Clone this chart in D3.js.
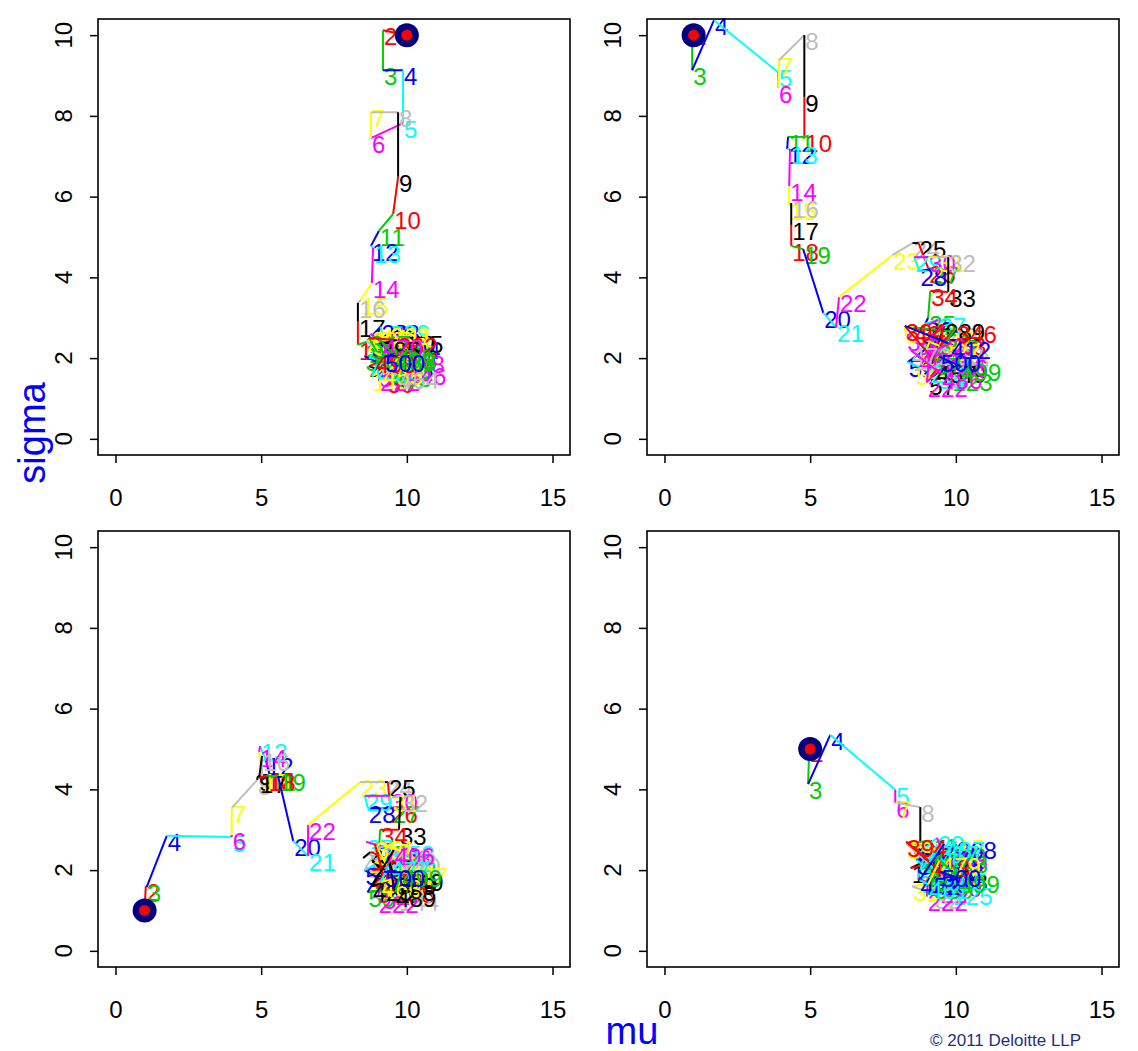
<!DOCTYPE html>
<html><head><meta charset="utf-8">
<script src="https://cdn.jsdelivr.net/npm/d3@7"></script>
<style>
body{margin:0;background:#fff}
svg{display:block}
text{font-family:"Liberation Sans",Arial,Helvetica,sans-serif}
</style>
</head><body>
<svg id="chart" width="1138" height="1051"></svg>
<script>
// R default palette (index 1..8)
const palette = ["#000000","#FF0000","#00CD00","#0000FF","#00FFFF","#FF00FF","#FFFF00","#BEBEBE"];
const xTicks = [0, 5, 10, 15];
const yTicks = [0, 2, 4, 6, 8, 10];
const xTitle = "mu", yTitle = "sigma", credit = "\u00A9 2011 Deloitte LLP";

// Chain A: start (10,10)
const iterA = [1,2,3,4,5,6,7,8,9,10,11,12,13,14,15,16,17,18,
  19,20,21,22,23,24,25,26,27,28,29,30,31,32,33,34,35,36,37,38,39,40,41,42,43,44,45,46,47,48,49,50,
  103,111,138,156,175,189,204,222,237,251,263,279,295,318,333,347,362,385,403,419,431,446,455,464,470,483,498,499,500];
const muA = [10,9.18,9.18,9.87,9.87,8.77,8.77,9.70,9.70,9.53,9.04,8.77,8.84,8.80,8.42,8.32,8.32,8.32,
  8.60,9.10,9.30,8.90,9.60,9.20,10.30,9.90,9.40,9.50,9.85,9.00,9.70,8.75,9.35,10.00,8.55,9.55,9.15,9.75,8.95,9.60,8.70,9.25,10.10,8.85,8.65,9.45,8.60,9.80,10.05,9.30,
  9.30,9.60,8.85,9.50,8.80,9.20,9.75,9.05,8.95,9.55,9.40,9.10,8.75,9.90,9.30,8.70,9.65,9.05,9.45,8.90,9.35,9.95,9.15,9.70,9.15,9.60,8.90,9.55,9.22];
const sigmaA = [10,10.12,9.13,9.13,7.82,7.45,8.09,8.09,6.49,5.57,5.15,4.78,4.73,3.86,3.44,3.37,2.90,2.33,
  2.40,2.78,2.20,1.90,2.05,2.50,2.50,2.30,1.80,2.78,2.76,1.65,2.40,2.15,2.62,1.85,2.05,1.70,2.30,2.15,2.60,1.55,1.80,1.95,2.10,2.35,2.25,2.55,2.43,1.75,2.50,1.50,
  2.45,2.65,2.10,1.85,1.55,2.25,2.35,1.55,1.85,2.20,2.70,2.00,2.60,2.00,1.75,2.50,2.45,2.35,1.65,2.15,1.95,1.70,1.70,1.60,2.40,2.05,2.00,2.10,2.03];

// Chain B: start (1,10)
const iterB = [1,2,3,4,5,6,7,8,9,10,11,12,13,14,15,16,17,18,19,20,21,22,23,24,25,26,27,28,29,30,31,32,33,34,35,
  36,37,38,39,40,41,42,43,44,45,46,47,48,49,50,51,52,53,54,55,56,57,58,59,60,
  107,123,142,168,191,207,222,246,261,289,302,327,346,371,394,412,438,457,472,486,499,500];
const muB = [1.0,0.95,0.95,1.70,3.90,3.90,3.93,4.80,4.80,4.80,4.24,4.21,4.31,4.28,4.28,4.35,4.35,4.35,4.76,5.45,5.89,5.99,7.82,8.51,8.72,9.05,9.16,8.75,8.57,9.05,9.36,9.74,9.74,9.12,9.05,
  8.95,9.40,8.30,8.25,9.80,9.00,8.55,10.05,9.10,8.70,10.00,9.20,10.20,10.10,8.80,9.60,8.35,9.35,10.10,8.60,9.75,9.05,10.10,8.90,9.50,
  9.40,9.85,9.00,9.55,8.80,9.20,9.00,9.70,9.10,9.60,8.95,9.45,10.00,9.25,8.25,9.80,8.70,9.30,8.45,9.50,10.15,9.45];
const sigmaB = [10.0,10.12,9.13,10.37,9.08,8.69,9.38,10.0,8.47,7.48,7.48,7.18,7.18,6.26,5.79,5.84,5.30,4.78,4.70,3.12,2.77,3.51,4.55,4.85,4.85,4.23,4.21,4.16,4.50,4.50,4.50,4.50,3.64,3.66,3.00,
  2.85,2.95,2.55,2.75,2.70,2.70,2.75,2.65,2.20,2.35,2.40,2.25,2.10,1.75,2.00,2.55,1.90,1.60,2.05,1.70,1.85,1.45,2.45,2.45,2.05,
  2.40,1.55,2.15,2.20,1.85,2.60,1.40,1.90,1.75,2.80,2.45,2.30,2.75,1.95,2.80,2.35,2.05,1.75,2.20,1.60,1.80,2.03];

// Chain C: start (1,1)
const iterC = [1,2,3,4,5,6,7,8,9,10,11,12,13,14,15,16,17,18,19,20,21,22,23,24,25,26,27,28,29,30,31,32,33,34,
  35,36,37,38,39,40,41,42,43,44,45,46,47,48,49,50,51,52,53,54,55,56,57,58,59,60,
  117,144,161,183,199,222,240,266,287,304,329,351,378,406,425,449,463,477,489,499,500];
const muC = [1.0,1.04,1.07,1.76,3.99,3.99,3.99,4.86,4.89,5.16,5.30,5.16,4.96,4.93,5.03,5.03,4.93,5.23,5.58,6.10,6.61,6.61,8.39,9.25,9.35,9.43,9.49,8.66,8.56,9.43,9.49,9.78,9.73,9.08,
  9.05,9.45,8.60,9.90,9.20,8.50,8.75,9.60,10.05,8.85,10.05,9.35,8.70,9.75,10.10,8.95,9.50,8.55,10.00,9.15,9.85,8.80,9.40,10.00,8.65,9.25,
  9.40,9.70,8.90,9.55,9.10,9.00,9.75,8.75,10.00,9.30,9.60,8.90,9.20,9.55,8.80,9.85,9.10,9.40,9.60,9.80,9.22];
const sigmaC = [1.0,1.61,1.58,2.85,2.82,2.87,3.54,4.23,4.33,4.33,4.33,4.73,5.07,4.93,4.33,4.83,4.28,4.33,4.33,2.72,2.35,3.12,4.18,4.18,4.18,3.55,3.53,3.53,3.84,3.84,3.81,3.81,3.00,3.00,
  2.55,2.50,2.70,2.45,2.60,2.30,2.45,2.20,2.35,2.05,2.10,2.30,1.85,1.75,1.80,1.55,1.60,2.00,2.55,1.40,2.05,2.25,1.90,1.55,1.45,2.15,
  2.35,1.35,2.20,2.05,1.65,1.30,2.25,1.95,2.00,2.45,1.75,2.65,1.85,2.50,1.60,1.85,1.70,2.15,1.45,1.95,1.96];

// Chain D: start (5,5)
const iterD = [1,2,3,4,5,6,7,8,9,
  10,11,12,13,14,15,16,17,18,19,20,21,22,23,24,25,26,27,28,29,30,31,32,33,34,35,36,37,38,39,40,
  108,125,149,172,196,222,243,268,291,317,339,365,394,418,437,452,461,479,499,500];
const muD = [5.0,4.97,4.93,5.69,7.92,7.92,7.99,8.78,8.78,
  8.35,9.20,8.60,9.55,8.90,10.05,9.30,8.45,9.80,10.10,9.00,8.70,9.45,10.10,8.55,9.65,9.10,10.05,8.80,9.35,9.95,8.50,9.25,10.15,8.95,9.70,8.65,9.50,10.15,8.30,9.15,
  9.30,9.85,8.90,9.55,9.05,9.00,9.70,10.00,8.80,9.40,9.20,9.65,8.30,9.10,9.60,8.75,9.05,9.45,10.10,9.47];
const sigmaD = [5.0,5.05,4.13,5.35,3.99,3.66,3.66,3.56,2.70,
  2.68,2.72,2.40,2.60,2.15,2.70,2.35,2.05,2.25,2.50,2.55,1.80,1.55,1.95,2.60,2.10,1.85,2.20,2.45,2.80,1.70,1.60,1.40,1.85,1.95,2.45,2.25,1.75,2.40,2.65,2.10,
  2.40,1.50,2.30,2.10,1.80,1.35,2.30,2.65,2.00,2.55,1.65,1.85,2.70,2.20,2.65,1.75,1.65,2.25,1.80,1.96];

const chains = [
  {iter: iterA, mu: muA, sigma: sigmaA},
  {iter: iterB, mu: muB, sigma: sigmaB},
  {iter: iterC, mu: muC, sigma: sigmaC},
  {iter: iterD, mu: muD, sigma: sigmaD}
];

// layout
const panels = [
  {x0: 98,  x1: 570,  y0: 19,  y1: 455},
  {x0: 647, x1: 1119, y0: 19,  y1: 455},
  {x0: 98,  x1: 570,  y0: 531, y1: 967},
  {x0: 647, x1: 1119, y0: 531, y1: 967}
];

const svg = d3.select("#chart");
const FS = 24;

panels.forEach((p, k) => {
  const x = d3.scaleLinear().domain([-0.6, 15.6]).range([p.x0, p.x1]);
  const y = d3.scaleLinear().domain([-0.4, 10.4]).range([p.y1, p.y0]);
  const g = svg.append("g");

  // axes: ticks + labels
  const xa = g.append("g").attr("transform", `translate(0,${p.y1})`)
    .call(d3.axisBottom(x).tickValues(xTicks).tickSize(8).tickSizeOuter(0).tickPadding(26).tickFormat(d3.format("d")));
  xa.select(".domain").remove();
  xa.selectAll("line").attr("stroke", "#000").attr("stroke-width", 1.5);
  xa.selectAll("text").attr("font-size", FS).attr("fill", "#000")
    .attr("font-family", '"Liberation Sans",Arial,sans-serif');

  const ya = g.append("g").attr("transform", `translate(${p.x0},0)`)
    .call(d3.axisLeft(y).tickValues(yTicks).tickSize(8).tickSizeOuter(0).tickFormat(d3.format("d")));
  ya.select(".domain").remove();
  ya.selectAll("line").attr("stroke", "#000").attr("stroke-width", 1.5);
  ya.selectAll("text").remove();
  yTicks.forEach(v => {
    g.append("text")
      .attr("transform", `translate(${p.x0 - 26},${y(v)}) rotate(-90)`)
      .attr("text-anchor", "middle")
      .attr("font-size", FS).attr("fill", "#000")
      .text(v);
  });

  // chain path with labels (label of the first point is not drawn)
  const c = chains[k];
  const col = i => palette[(i - 1) % 8];
  const marks = g.append("g");
  for (let j = 1; j < c.iter.length; j++) {
    marks.append("line")
      .attr("x1", x(c.mu[j-1])).attr("y1", y(c.sigma[j-1]))
      .attr("x2", x(c.mu[j])).attr("y2", y(c.sigma[j]))
      .attr("stroke", col(c.iter[j])).attr("stroke-width", 2);
    marks.append("text")
      .attr("x", x(c.mu[j]) + 1).attr("y", y(c.sigma[j]) + 15)
      .attr("font-size", FS).attr("fill", col(c.iter[j]))
      .text(c.iter[j]);
  }

  // starting point marker
  g.append("circle").attr("cx", x(c.mu[0])).attr("cy", y(c.sigma[0])).attr("r", 12).attr("fill", "#00007F");
  g.append("circle").attr("cx", x(c.mu[0])).attr("cy", y(c.sigma[0])).attr("r", 5.5).attr("fill", "#FF0000");

  // box
  g.append("rect").attr("x", p.x0).attr("y", p.y0)
    .attr("width", p.x1 - p.x0).attr("height", p.y1 - p.y0)
    .attr("fill", "none").attr("stroke", "#000").attr("stroke-width", 1.6);
});

// titles
svg.append("text").attr("x", 632).attr("y", 1044).attr("text-anchor", "middle")
  .attr("font-size", 38).attr("fill", "#0000FF").text(xTitle);
svg.append("text").attr("transform", "translate(45,433) rotate(-90)").attr("text-anchor", "middle")
  .attr("font-size", 38).attr("fill", "#0000FF").text(yTitle);
svg.append("text").attr("x", 930).attr("y", 1046).attr("font-size", 17)
  .attr("fill", "#1F2F80").text(credit);
</script>
</body></html>
